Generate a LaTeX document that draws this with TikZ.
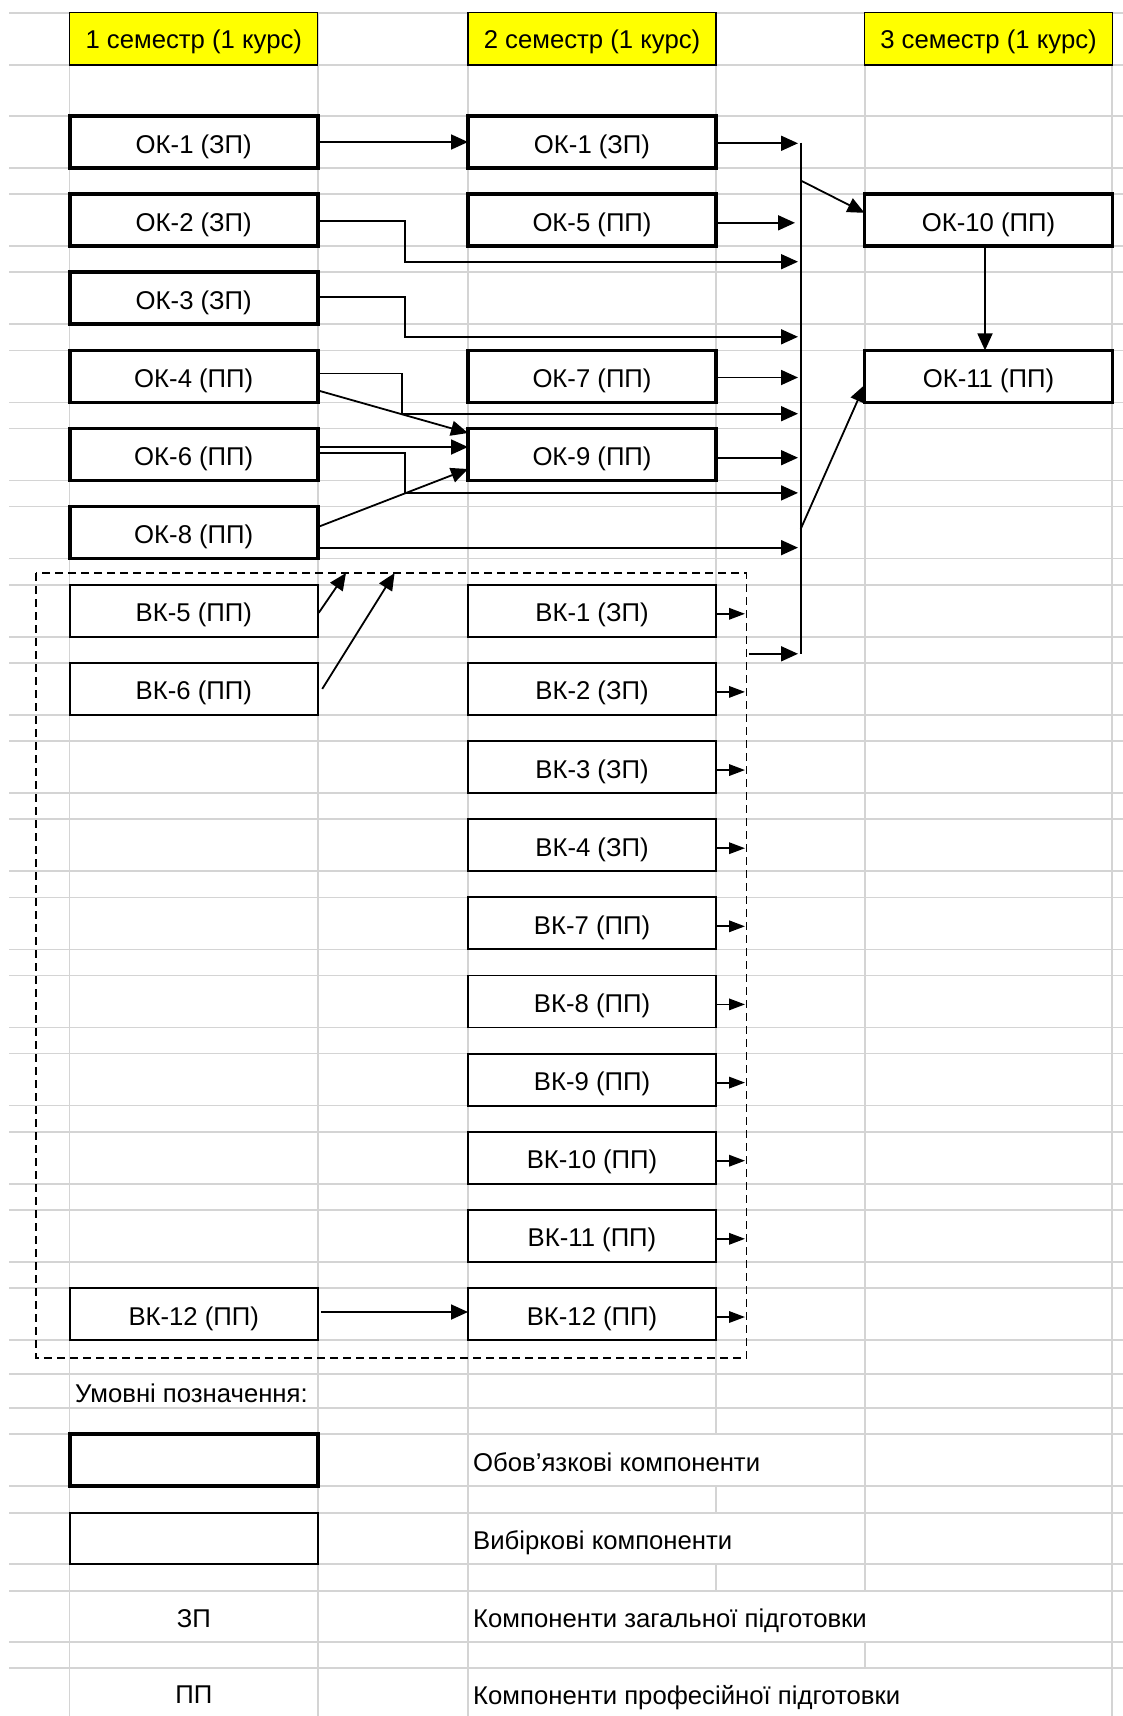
\documentclass[tikz,border=0pt]{standalone}
\usepackage{fontspec}
\setmainfont{Liberation Sans}
\usetikzlibrary{arrows.meta,calc}
\definecolor{gridc}{RGB}{212,212,212}
\definecolor{hdrc}{RGB}{255,255,0}
\newcommand\cellfnt{\fontsize{25.7}{30}\selectfont}
\begin{document}
\begin{tikzpicture}[x=1pt,y=-1pt,
  gridline/.style={draw=gridc,line width=1.6pt},
  okbox/.style={draw=black,line width=3.6pt,minimum width=248pt,minimum height=52pt,inner sep=0pt,outer sep=0pt,font=\cellfnt,fill=white,text height=22pt,text depth=0pt},
  vkbox/.style={draw=black,line width=1.8pt,minimum width=248pt,minimum height=52pt,inner sep=0pt,outer sep=0pt,font=\cellfnt,fill=white,text height=22pt,text depth=0pt},
  hdrbox/.style={draw=black,line width=1.2pt,fill=hdrc,minimum width=248pt,minimum height=52.3pt,inner sep=0pt,outer sep=0pt,font=\cellfnt,text height=20pt,text depth=0pt},
  conn/.style={draw=black,line width=1.8pt},
  arr/.style={conn,-{Triangle[length=17pt,width=15pt]}},
  sarr/.style={conn,-{Triangle[length=16pt,width=11.5pt]}},
  dashbox/.style={draw=black,line width=1.6pt,dash pattern=on 8pt off 5pt},
  lbl/.style={font=\cellfnt,inner sep=0pt,anchor=west,text height=22pt,text depth=0pt},
  plain/.style={font=\cellfnt,inner sep=0pt,text height=21pt,text depth=0pt}
]
\useasboundingbox (0,0) rectangle (1123,1716);
\fill[white] (0,0) rectangle (1123,1716);

% ---------- grid ----------
\foreach \yy in {12.7,65,1374,1408,1434,1486,1513,1564,1591,1642,1668}
  \draw[gridline] (9,\yy) -- (1123,\yy);
\foreach \k in {0,...,15}{
  \draw[gridline] (9,{116+78.13*\k}) -- (1123,{116+78.13*\k});
  \draw[gridline] (9,{168+78.13*\k}) -- (1123,{168+78.13*\k});
}
\foreach \xx in {69.5,318,468,1112}
  \draw[gridline] (\xx,12.7) -- (\xx,1716);
\draw[gridline] (716,12.7) -- (716,1434);
\draw[gridline] (716,1486) -- (716,1513);
\draw[gridline] (716,1564) -- (716,1591);
\draw[gridline] (865,12.7) -- (865,1591);
\draw[gridline] (865,1642) -- (865,1668);

% ---------- headers ----------
\node[hdrbox] (h1) at (193.75,38.85) {1 семестр (1 курс)};
\node[hdrbox] (h2) at (592,38.85) {2 семестр (1 курс)};
\node[hdrbox] (h3) at (988.5,38.85) {3 семестр (1 курс)};

% ---------- semester 1 ----------
\node[okbox] (s1ok1) at (193.75,142) {ОК-1 (ЗП)};
\node[okbox] (s1ok2) at (193.75,220.13) {ОК-2 (ЗП)};
\node[okbox] (s1ok3) at (193.75,298.26) {ОК-3 (ЗП)};
\node[okbox] (s1ok4) at (193.75,376.4) {ОК-4 (ПП)};
\node[okbox] (s1ok6) at (193.75,454.5) {ОК-6 (ПП)};
\node[okbox] (s1ok8) at (193.75,532.65) {ОК-8 (ПП)};
\node[vkbox] (s1vk5) at (193.75,610.8) {ВК-5 (ПП)};
\node[vkbox] (s1vk6) at (193.75,688.9) {ВК-6 (ПП)};
\node[vkbox] (s1vk12) at (193.75,1314) {ВК-12 (ПП)};

% ---------- semester 2 ----------
\node[okbox] (s2ok1) at (592,142) {ОК-1 (ЗП)};
\node[okbox] (s2ok5) at (592,220.13) {ОК-5 (ПП)};
\node[okbox] (s2ok7) at (592,376.4) {ОК-7 (ПП)};
\node[okbox] (s2ok9) at (592,454.5) {ОК-9 (ПП)};
\node[vkbox] (s2vk1) at (592,610.8) {ВК-1 (ЗП)};
\node[vkbox] (s2vk2) at (592,688.9) {ВК-2 (ЗП)};
\node[vkbox] (s2vk3) at (592,767.05) {ВК-3 (ЗП)};
\node[vkbox] (s2vk4) at (592,845.2) {ВК-4 (ЗП)};
\node[vkbox] (s2vk7) at (592,923.3) {ВК-7 (ПП)};
\node[vkbox] (s2vk8) at (592,1001.4) {ВК-8 (ПП)};
\node[vkbox] (s2vk9) at (592,1079.6) {ВК-9 (ПП)};
\node[vkbox] (s2vk10) at (592,1157.7) {ВК-10 (ПП)};
\node[vkbox] (s2vk11) at (592,1235.8) {ВК-11 (ПП)};
\node[vkbox] (s2vk12) at (592,1314) {ВК-12 (ПП)};

% ---------- semester 3 ----------
\node[okbox] (s3ok10) at (988.5,220.13) {ОК-10 (ПП)};
\node[okbox] (s3ok11) at (988.5,376.4) {ОК-11 (ПП)};

% ---------- helper coordinates ----------
\coordinate (bustop) at (800.7,142.5);
\coordinate (busbot) at (800.7,653.8);
\coordinate (busin) at (798,0);
\coordinate (dtl) at (36,573);
\coordinate (dbr) at (746.5,1358);

% ---------- connectors from semester 1 ----------
\draw[arr] (s1ok1.east) -- (s2ok1.west);

\path ($(s1ok2.east)+(0,1)$) coordinate (p2);
\draw[arr] (p2) -- ++(87,0) |- ($(busin)+(0,261.7)$);

\path ($(s1ok3.east)+(0,-1)$) coordinate (p3);
\draw[arr] (p3) -- ++(87,0) |- ($(busin)+(0,336.8)$);

\path ($(s1ok4.east)+(0,-3)$) coordinate (p4);
\draw[arr] (p4) -- ++(84,0) |- ($(busin)+(0,413.7)$);
\draw[arr] ($(s1ok4.east)+(0,14)$) -- ($(s2ok9.west)+(0,-21.5)$);

\draw[arr] ($(s1ok6.east)+(0,-7.5)$) -- ($(s2ok9.west)+(0,-7.5)$);
\path ($(s1ok6.east)+(0,-1.5)$) coordinate (p6);
\draw[arr] (p6) -- ++(87,0) |- ($(busin)+(0,492.9)$);

\draw[arr] ($(s1ok8.east)+(0,-5.6)$) -- ($(s2ok9.west)+(0,14.5)$);
\path ($(s1ok8.east)+(0,15)$) coordinate (p8);
\draw[arr] (p8) -- (p8 -| busin);

% ---------- connectors from semester 2 into the bus ----------
\path ($(s2ok1.east)+(0,1.3)$) coordinate (q1);
\draw[arr] (q1) -- (q1 -| busin);
\path ($(s2ok5.east)+(0,2.7)$) coordinate (q5);
\draw[arr] (q5) -- ($(q5 -| busin)+(-3,0)$);
\path ($(s2ok7.east)+(0,1.1)$) coordinate (q7);
\draw[arr] (q7) -- (q7 -| busin);
\path ($(s2ok9.east)+(0,3.2)$) coordinate (q9);
\draw[arr] (q9) -- (q9 -| busin);

% ---------- bus ----------
\draw[conn] (bustop) -- (busbot);
\draw[arr] ($(bustop)+(0,38)$) -- ($(s3ok10.west)+(0,-7.3)$);
\draw[arr] ($(bustop)+(0,386.5)$) -- ($(s3ok11.west)+(0,8.6)$);
\draw[arr] ($(s3ok10.south)+(-3.5,0)$) -- ($(s3ok11.north)+(-3.5,0)$);

% ---------- dashed group of elective components ----------
\draw[dashbox] (dtl) rectangle (dbr);
\draw[arr] ($(s1vk5.east)+(1,2)$) -- ($(dtl)+(310,0)$);
\draw[arr] ($(s1vk6.east)+(4.5,0)$) -- ($(dtl)+(358.6,0)$);
\foreach \n in {s2vk1,s2vk2,s2vk3,s2vk4,s2vk7,s2vk8,s2vk9,s2vk10,s2vk11,s2vk12}
  \draw[sarr] ($(\n.east)+(1,3)$) -- ($(\n.east)+(29,3)$);
\draw[arr] ($(busbot)+(-52,0)$) -- ($(busbot)+(-2.7,0)$);
\draw[arr] ($(s1vk12.east)+(3,-2)$) -- ($(s2vk12.west)+(0,-2)$);

% ---------- legend ----------
\node[lbl] (legttl) at (75,1391) {Умовні позначення:};
\node[okbox] (legok) at (193.75,1460) {};
\node[vkbox,minimum height=51pt] (legvk) at (193.75,1538.5) {};
\node[plain] (legzp) at (193.75,1616.5) {ЗП};
\node[plain] (legpp) at (193.75,1693) {ПП};
\node[lbl] (legt1) at (473,1460) {Обов’язкові компоненти};
\node[lbl] (legt2) at (473,1538.5) {Вибіркові компоненти};
\node[lbl] (legt3) at (473,1616.5) {Компоненти загальної підготовки};
\node[lbl] (legt4) at (473,1693) {Компоненти професійної підготовки};
\end{tikzpicture}
\end{document}
